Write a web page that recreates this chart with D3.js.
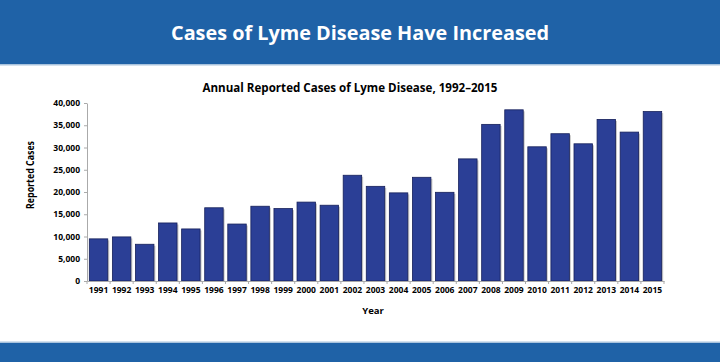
<!DOCTYPE html>
<html><head><meta charset="utf-8">
<script src="https://cdn.jsdelivr.net/npm/d3@7"></script>
<style>body{margin:0;background:#fff}svg{display:block}</style>
</head><body>
<svg id="c" width="720" height="362"></svg>
<script>
const years = ["1991","1992","1993","1994","1995","1996","1997","1998","1999","2000","2001","2002","2003","2004","2005","2006","2007","2008","2009","2010","2011","2012","2013","2014","2015"];
const cases = [9470,9908,8257,13043,11700,16455,12801,16801,16273,17730,17029,23763,21273,19804,23305,19931,27444,35198,38468,30158,33097,30831,36307,33461,38069];
const yTicks = [0,5000,10000,15000,20000,25000,30000,35000,40000];
const bannerTitle = "Cases of Lyme Disease Have Increased";
const chartTitle = "Annual Reported Cases of Lyme Disease, 1992\u20132015";

const svg = d3.select("#c");
const blue = "#1f62a7";
svg.append("rect").attr("x",0).attr("y",0).attr("width",720).attr("height",64).attr("fill",blue);
svg.append("rect").attr("x",0).attr("y",64).attr("width",720).attr("height",1.5).attr("fill","#a9c3dd");
svg.append("rect").attr("x",0).attr("y",341.5).attr("width",720).attr("height",1.5).attr("fill","#a9c3dd");
svg.append("rect").attr("x",0).attr("y",343).attr("width",720).attr("height",19).attr("fill",blue);

svg.append("text").attr("x",360).attr("y",40).attr("text-anchor","middle")
  .attr("font-family","Open Sans").attr("font-weight","bold").attr("font-size",20)
  .attr("fill","#fff").attr("textLength",378).attr("lengthAdjust","spacingAndGlyphs").text(bannerTitle);

svg.append("text").attr("x",350).attr("y",92).attr("text-anchor","middle")
  .attr("font-family","Open Sans").attr("font-weight","bold").attr("font-size",12)
  .attr("fill","#000").attr("textLength",295).attr("lengthAdjust","spacingAndGlyphs").text(chartTitle);

const x = d3.scaleBand().domain(years).range([87,664]).paddingInner(0.2).paddingOuter(0.1);
const y = d3.scaleLinear().domain([0,40000]).range([281,103]);

const g = svg.append("g");
g.selectAll("rect.sh").data(years).join("rect").attr("class","sh")
  .attr("x",d=>x(d)+1.5).attr("y",(d,i)=>y(cases[i])+1.5)
  .attr("width",x.bandwidth()).attr("height",(d,i)=>281-y(cases[i])-1.5)
  .attr("fill","#c8c8c8");
g.selectAll("rect.bar").data(years).join("rect").attr("class","bar")
  .attr("x",d=>x(d)).attr("y",(d,i)=>y(cases[i]))
  .attr("width",x.bandwidth()).attr("height",(d,i)=>281-y(cases[i]))
  .attr("fill","#2b3f96").attr("stroke","#16205a").attr("stroke-width",0.8);

const ya = svg.append("g").attr("transform","translate(87,0)")
  .call(d3.axisLeft(y).tickValues(yTicks).tickSize(3).tickSizeOuter(0).tickFormat(d3.format(",")));
ya.select(".domain").attr("stroke","#aaa");
ya.selectAll(".tick line").attr("stroke","#aaa");
ya.selectAll(".tick text").attr("font-family","Open Sans").attr("font-weight","bold").attr("font-size",8.5).attr("fill","#000").attr("x",-7);

const xa = svg.append("g").attr("transform","translate(0,281)")
  .call(d3.axisBottom(x).tickSize(0).tickSizeOuter(0));
xa.select(".domain").attr("stroke","#aaa");
xa.selectAll(".tick text").attr("font-family","Open Sans").attr("font-weight","bold").attr("font-size",8.5).attr("fill","#000").attr("dy","0.9em").attr("y",4);
const bounds = d3.range(years.length+1).map(i => 87 + i*(577/25));
svg.append("g").selectAll("line").data(bounds).join("line")
  .attr("x1",d=>d).attr("x2",d=>d).attr("y1",281).attr("y2",284).attr("stroke","#aaa");

svg.append("text").attr("x",373).attr("y",314).attr("text-anchor","middle")
  .attr("font-family","Open Sans").attr("font-weight","bold").attr("font-size",9.5).text("Year");
svg.append("text").attr("transform","translate(34,175) rotate(-90)").attr("text-anchor","middle")
  .attr("font-family","Open Sans").attr("font-weight","bold").attr("font-size",10)
  .attr("textLength",68).attr("lengthAdjust","spacingAndGlyphs").text("Reported Cases");
</script>
</body></html>
